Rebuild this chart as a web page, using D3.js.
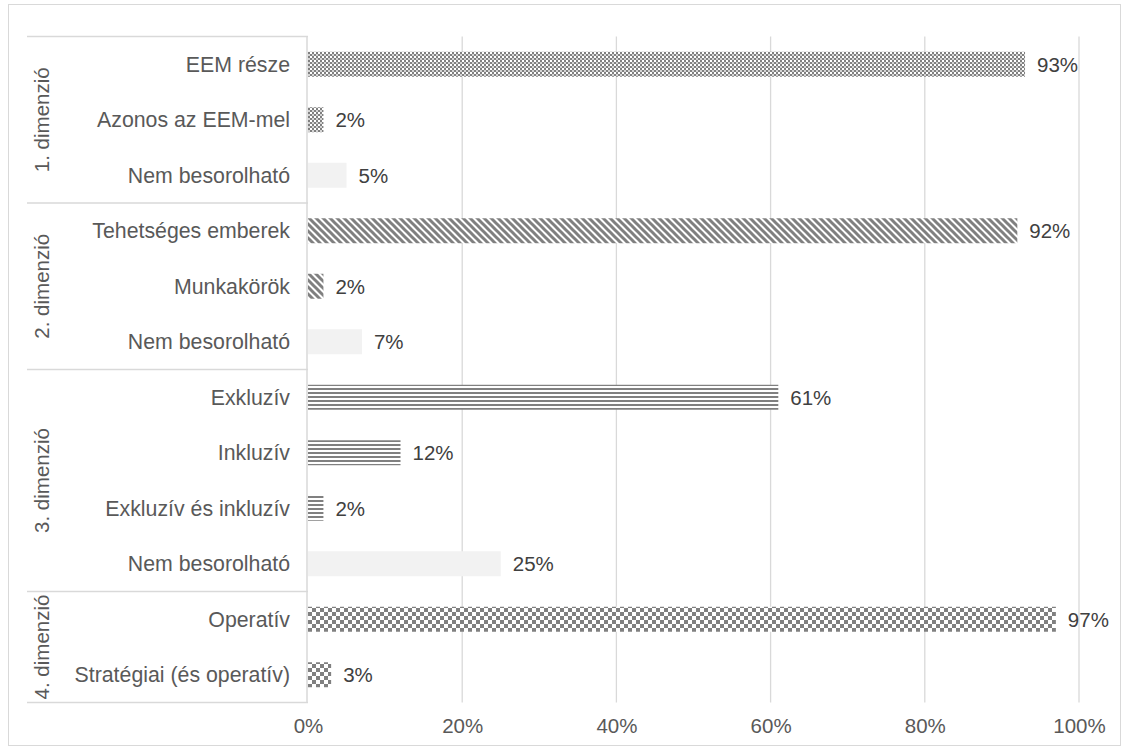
<!DOCTYPE html>
<html>
<head>
<meta charset="utf-8">
<script src="https://cdn.jsdelivr.net/npm/d3@7"></script>
<style>
  body { margin: 0; background: #fff; }
  text { font-family: "Liberation Sans", Arial, sans-serif; }
</style>
</head>
<body>
<div id="chart"></div>
<script>
// data
let groups = ["1. dimenzió", "2. dimenzió", "3. dimenzió", "4. dimenzió"];
let categories = [
  "EEM része", "Azonos az EEM-mel", "Nem besorolható",
  "Tehetséges emberek", "Munkakörök", "Nem besorolható",
  "Exkluzív", "Inkluzív", "Exkluzív és inkluzív", "Nem besorolható",
  "Operatív", "Stratégiai (és operatív)"
];
let groupOf = [0, 0, 0, 1, 1, 1, 2, 2, 2, 2, 3, 3];
let values = [93, 2, 5, 92, 2, 7, 61, 12, 2, 25, 97, 3];
let unclassified = [false, false, true, false, false, true, false, false, false, true, false, false];
let ticks = [0, 20, 40, 60, 80, 100];

let svgWidth = 1129;
let svgHeight = 753;
let plotLeft = 308, plotRight = 1079, plotTop = 36.5, plotBottom = 702.5;
let fontSize = 20.5;

let svg = d3.select("#chart").append("svg")
  .attr("width", svgWidth)
  .attr("height", svgHeight);

let defs = svg.append("defs");
let grey = "#808080";

// pattern per dimension
let p0 = defs.append("pattern").attr("id", "pat0").attr("patternUnits", "userSpaceOnUse")
  .attr("width", 4).attr("height", 4);
p0.append("rect").attr("width", 4).attr("height", 4).attr("fill", "#d4d4d4");
p0.append("rect").attr("x", 0).attr("y", 0).attr("width", 2).attr("height", 2).attr("fill", grey);
p0.append("rect").attr("x", 2).attr("y", 2).attr("width", 2).attr("height", 2).attr("fill", grey);
p0.append("rect").attr("x", 2).attr("y", 0).attr("width", 2).attr("height", 2).attr("fill", "#fff");

let p1 = defs.append("pattern").attr("id", "pat1").attr("patternUnits", "userSpaceOnUse")
  .attr("width", 7).attr("height", 7);
p1.append("rect").attr("width", 7).attr("height", 7).attr("fill", "#fff");
p1.append("path").attr("d", "M-2,-2L9,9M-5.5,1.5L5.5,12.5M1.5,-5.5L12.5,5.5")
  .attr("stroke", grey).attr("stroke-width", 3);

let p2 = defs.append("pattern").attr("id", "pat2").attr("patternUnits", "userSpaceOnUse")
  .attr("width", 4).attr("height", 4);
p2.append("rect").attr("width", 4).attr("height", 4).attr("fill", "#fff");
p2.append("rect").attr("y", 0).attr("width", 4).attr("height", 2).attr("fill", grey);

let p3 = defs.append("pattern").attr("id", "pat3").attr("patternUnits", "userSpaceOnUse")
  .attr("width", 8).attr("height", 8);
p3.append("rect").attr("width", 8).attr("height", 8).attr("fill", "#fff");
p3.append("rect").attr("x", 0).attr("y", 0).attr("width", 4).attr("height", 4).attr("fill", grey);
p3.append("rect").attr("x", 4).attr("y", 4).attr("width", 4).attr("height", 4).attr("fill", grey);

// chart border
svg.append("rect")
  .attr("x", 8.5).attr("y", 4.5)
  .attr("width", 1112).attr("height", 741)
  .attr("fill", "none").attr("stroke", "#d9d9d9");

let x = d3.scaleLinear().domain([0, 100]).range([plotLeft, plotRight]);
let y = d3.scaleBand().domain(d3.range(categories.length))
  .range([plotTop, plotBottom]).paddingInner(0.55).paddingOuter(0.275);
let yFull = d3.scaleBand().domain(d3.range(categories.length)).range([plotTop, plotBottom]);

// gridlines
svg.append("g").selectAll("line").data(ticks.slice(1)).enter()
  .append("line")
  .attr("x1", d => x(d)).attr("x2", d => x(d))
  .attr("y1", plotTop).attr("y2", plotBottom)
  .attr("stroke", "#d9d9d9").attr("stroke-width", 1.3);

// x axis labels
let xAxis = d3.axisBottom(x).tickValues(ticks).tickFormat(d => d + "%").tickSize(0).tickPadding(0);
let xg = svg.append("g").attr("transform", "translate(0," + 733 + ")").call(xAxis);
xg.select(".domain").remove();
xg.selectAll("text").attr("font-size", fontSize).attr("fill", "#595959")
  .attr("font-family", "Liberation Sans, Arial, sans-serif").attr("dy", 0);

// bars
svg.append("g").selectAll("rect").data(values).enter()
  .append("rect")
  .attr("x", x(0))
  .attr("y", (d, i) => y(i))
  .attr("width", d => x(d) - x(0))
  .attr("height", y.bandwidth())
  .attr("fill", (d, i) => unclassified[i] ? "#f2f2f2" : "url(#pat" + groupOf[i] + ")");

// value labels
svg.append("g").selectAll("text").data(values).enter()
  .append("text")
  .attr("x", d => x(d) + 12)
  .attr("y", (d, i) => y(i) + y.bandwidth() / 2)
  .attr("dy", "0.36em")
  .attr("font-size", fontSize)
  .attr("fill", "#404040")
  .text(d => d + "%");

// category labels
svg.append("g").selectAll("text").data(categories).enter()
  .append("text")
  .attr("x", 290)
  .attr("y", (d, i) => y(i) + y.bandwidth() / 2)
  .attr("dy", "0.36em")
  .attr("text-anchor", "end")
  .attr("font-size", 21.3)
  .attr("fill", "#595959")
  .text(d => d);

// group boxes
let groupRanges = groups.map((g, gi) => {
  let idx = d3.range(categories.length).filter(i => groupOf[i] === gi);
  return { name: g, top: yFull(idx[0]), bottom: yFull(idx[idx.length - 1]) + yFull.bandwidth() };
});
let bounds = [plotTop].concat(groupRanges.map(g => g.bottom));

svg.append("g").selectAll("line").data(bounds).enter()
  .append("line")
  .attr("x1", 27).attr("x2", plotLeft)
  .attr("y1", d => d).attr("y2", d => d)
  .attr("stroke", "#d9d9d9").attr("stroke-width", 1.3);

svg.append("line")
  .attr("x1", plotLeft - 1).attr("x2", plotLeft - 1)
  .attr("y1", plotTop).attr("y2", plotBottom)
  .attr("stroke", "#d9d9d9").attr("stroke-width", 1.5);

svg.append("g").selectAll("text").data(groupRanges).enter()
  .append("text")
  .attr("transform", d => "translate(42," + ((d.top + d.bottom) / 2) + ") rotate(-90)")
  .attr("text-anchor", "middle")
  .attr("dy", "0.36em")
  .attr("font-size", fontSize)
  .attr("fill", "#595959")
  .text(d => d.name);
</script>
</body>
</html>
